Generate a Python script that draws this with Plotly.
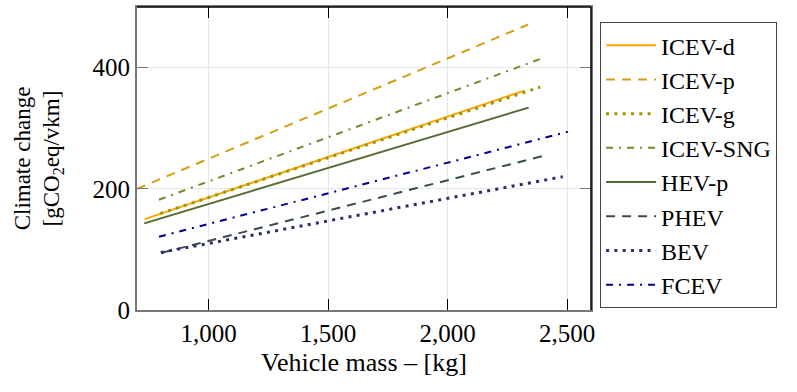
import plotly.graph_objects as go

# Data (vehicle mass [kg] -> climate change [gCO2eq/vkm])
names = ["ICEV-d", "ICEV-p", "ICEV-g", "ICEV-SNG", "HEV-p", "PHEV", "BEV", "FCEV"]
mass = {
    "ICEV-d":   [732, 2321],
    "ICEV-p":   [700, 2337],
    "ICEV-g":   [797, 2388],
    "ICEV-SNG": [792, 2400],
    "HEV-p":    [730, 2339],
    "PHEV":     [800, 2408],
    "BEV":      [800, 2482],
    "FCEV":     [792, 2503],
}
impact = {
    "ICEV-d":   [150, 362],
    "ICEV-p":   [200, 471],
    "ICEV-g":   [159, 368],
    "ICEV-SNG": [182, 416],
    "HEV-p":    [143, 334],
    "PHEV":     [94, 255],
    "BEV":      [95, 220],
    "FCEV":     [121, 294],
}
x_ticks = [1000, 1500, 2000, 2500]
x_ticktext = ["1,000", "1,500", "2,000", "2,500"]
y_ticks = [0, 200, 400]

colors = {
    "ICEV-d": "#FFA500", "ICEV-p": "#D4A010", "ICEV-g": "#999A00",
    "ICEV-SNG": "#6F8B2A", "HEV-p": "#556B2F", "PHEV": "#3A4D4D",
    "BEV": "#2E2A6E", "FCEV": "#00008B",
}
dashes = {
    "ICEV-d": "solid", "ICEV-p": "9px,7px", "ICEV-g": "3px,5.3px",
    "ICEV-SNG": "7px,6px,2px,6px", "HEV-p": "solid", "PHEV": "9px,7px",
    "BEV": "3px,5.3px", "FCEV": "7px,6px,2px,6px",
}
widths = {
    "ICEV-d": 2, "ICEV-p": 2, "ICEV-g": 3, "ICEV-SNG": 2, "HEV-p": 2,
    "PHEV": 2, "BEV": 3, "FCEV": 2,
}

FONT = "Liberation Serif"

fig = go.Figure()
for n in names:
    fig.add_trace(go.Scatter(
        x=mass[n], y=impact[n], mode="lines", name=n,
        line=dict(color=colors[n], dash=dashes[n], width=widths[n]),
    ))

fig.update_layout(
    width=797, height=392,
    margin=dict(l=137, r=206, t=7, b=82),
    plot_bgcolor="white", paper_bgcolor="white",
    font=dict(family=FONT, size=25, color="black"),
    legend=dict(
        x=1.02, y=0.95, xanchor="left", yanchor="top",
        bordercolor="#444444", borderwidth=1, bgcolor="white",
        font=dict(family=FONT, size=24), tracegroupgap=0, itemwidth=50,
    ),
    xaxis=dict(
        range=[700, 2600], tickvals=x_ticks, ticktext=x_ticktext,
        ticks="inside", ticklen=11, tickcolor="black", tickwidth=1.3,
        showline=True, linecolor="#777777", linewidth=2, mirror="ticks",
        showgrid=True, gridcolor="#e6e6e6", gridwidth=1, zeroline=False,
        title=dict(text="Vehicle mass – [kg]", standoff=7,
                   font=dict(family=FONT, size=26)),
        automargin=False,
    ),
    yaxis=dict(
        range=[0, 500], tickvals=y_ticks,
        ticks="inside", ticklen=11, tickcolor="#777777", tickwidth=1.3,
        showline=True, linecolor="#777777", linewidth=2, mirror="ticks",
        showgrid=True, gridcolor="#e6e6e6", gridwidth=1, zeroline=False,
        title=dict(text="Climate change<br>[gCO<sub>2</sub>eq/vkm]", standoff=26,
                   font=dict(family=FONT, size=23)),
        automargin=False,
    ),
    shapes=[
        dict(type="line", xref="paper", yref="paper", x0=0, x1=1, y0=1, y1=1,
             line=dict(color="black", width=1.5)),
        dict(type="line", xref="paper", yref="paper", x0=1, x1=1, y0=0, y1=1,
             line=dict(color="black", width=1.5)),
    ],
)

fig.write_html("out.html")
